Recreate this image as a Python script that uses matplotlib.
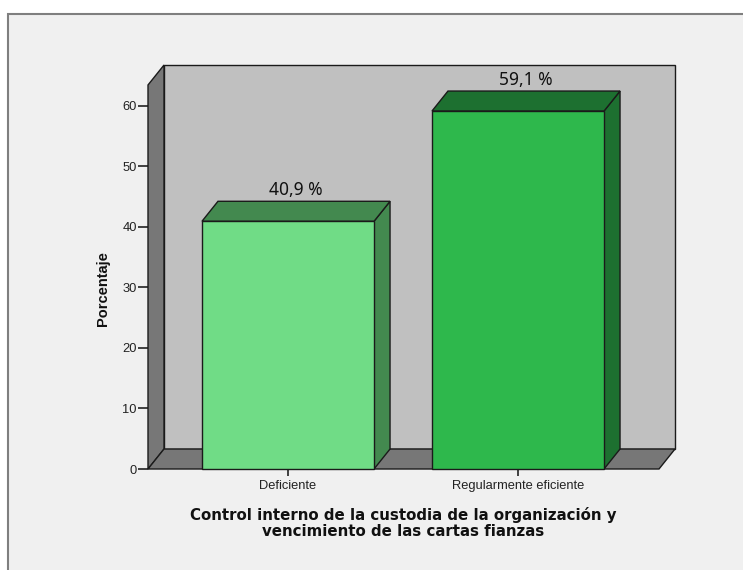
import matplotlib
matplotlib.use("Agg")
import matplotlib.pyplot as plt
from matplotlib.patches import Polygon, Rectangle

# data
categories = ["Deficiente", "Regularmente eficiente"]
percentages = [40.9, 59.1]
value_labels = ["40,9 %", "59,1 %"]
yticks = [0, 10, 20, 30, 40, 50, 60]

front_colors = ["#70dc86", "#2eb84c"]
shade_colors = ["#43894f", "#1d7030"]
edge = "#1a1a1a"

# 3d look: depth offset in data units
dx, dy = 0.0696, 3.30
x_lo, x_hi = -0.6087, 1.613   # front plane limits
y_top = 63.4                  # front plane top
bar_w = 0.748

fig = plt.figure(figsize=(7.43, 5.70), dpi=100)
fig.patch.set_facecolor("white")

# panel frame
fig.patches.append(Rectangle((8 / 743, -0.05), 1.1, (570 - 14) / 570 + 0.05,
                             transform=fig.transFigure, facecolor="#f0f0f0",
                             edgecolor="#7f7f7f", lw=1.5, zorder=-5))

ax = fig.add_axes([148 / 743, 101 / 570, 527 / 743, 404 / 570])
ax.set_xlim(x_lo, x_hi + dx)
ax.set_ylim(0, y_top + dy)
ax.patch.set_visible(False)
for s in ax.spines.values():
    s.set_visible(False)


def poly(pts, fc, z):
    ax.add_patch(Polygon(pts, closed=True, facecolor=fc, edgecolor=edge,
                         lw=1.0, zorder=z, clip_on=False))


# walls and floor
poly([(x_lo + dx, dy), (x_lo + dx, y_top + dy), (x_hi + dx, y_top + dy), (x_hi + dx, dy)], "#c0c0c0", 1)
poly([(x_lo, 0), (x_lo, y_top), (x_lo + dx, y_top + dy), (x_lo + dx, dy)], "#777777", 2)
poly([(x_lo, 0), (x_hi, 0), (x_hi + dx, dy), (x_lo + dx, dy)], "#777777", 2)

# bars
for i, (v, fc, sc, lab) in enumerate(zip(percentages, front_colors, shade_colors, value_labels)):
    l, r = i - bar_w / 2, i + bar_w / 2
    poly([(r, 0), (r + dx, dy), (r + dx, v + dy), (r, v)], sc, 3)
    poly([(l, v), (r, v), (r + dx, v + dy), (l + dx, v + dy)], sc, 3)
    poly([(l, 0), (r, 0), (r, v), (l, v)], fc, 4)
    ax.text(i + dx / 2, v + dy + 0.4, lab, ha="center", va="bottom",
            fontsize=12.5, family="Noto Sans", color="#111111", zorder=5)

ax.set_yticks(yticks)
ax.set_yticklabels([str(t) for t in yticks], fontsize=9.3, family="Liberation Sans", color="#222222")
ax.set_xticks(range(len(categories)))
ax.set_xticklabels(categories, fontsize=9.3, family="Liberation Sans", color="#222222")
ax.tick_params(axis="y", length=7, width=1.2, pad=1, color="#222222")
ax.tick_params(axis="x", length=5, width=1.2, pad=3, color="#222222")

fig.text(103 / 743, 1 - 289 / 570, "Porcentaje", rotation=90, ha="center", va="center",
         fontsize=10.5, fontweight="bold", family="Liberation Sans", color="#111111")
fig.text(403 / 743, 1 - 523 / 570,
         "Control interno de la custodia de la organización y\nvencimiento de las cartas fianzas",
         ha="center", va="center", fontsize=10.8, fontweight="bold", family="DejaVu Sans",
         color="#111111", linespacing=1.05)

fig.savefig("out.png", dpi=100, facecolor="white")
